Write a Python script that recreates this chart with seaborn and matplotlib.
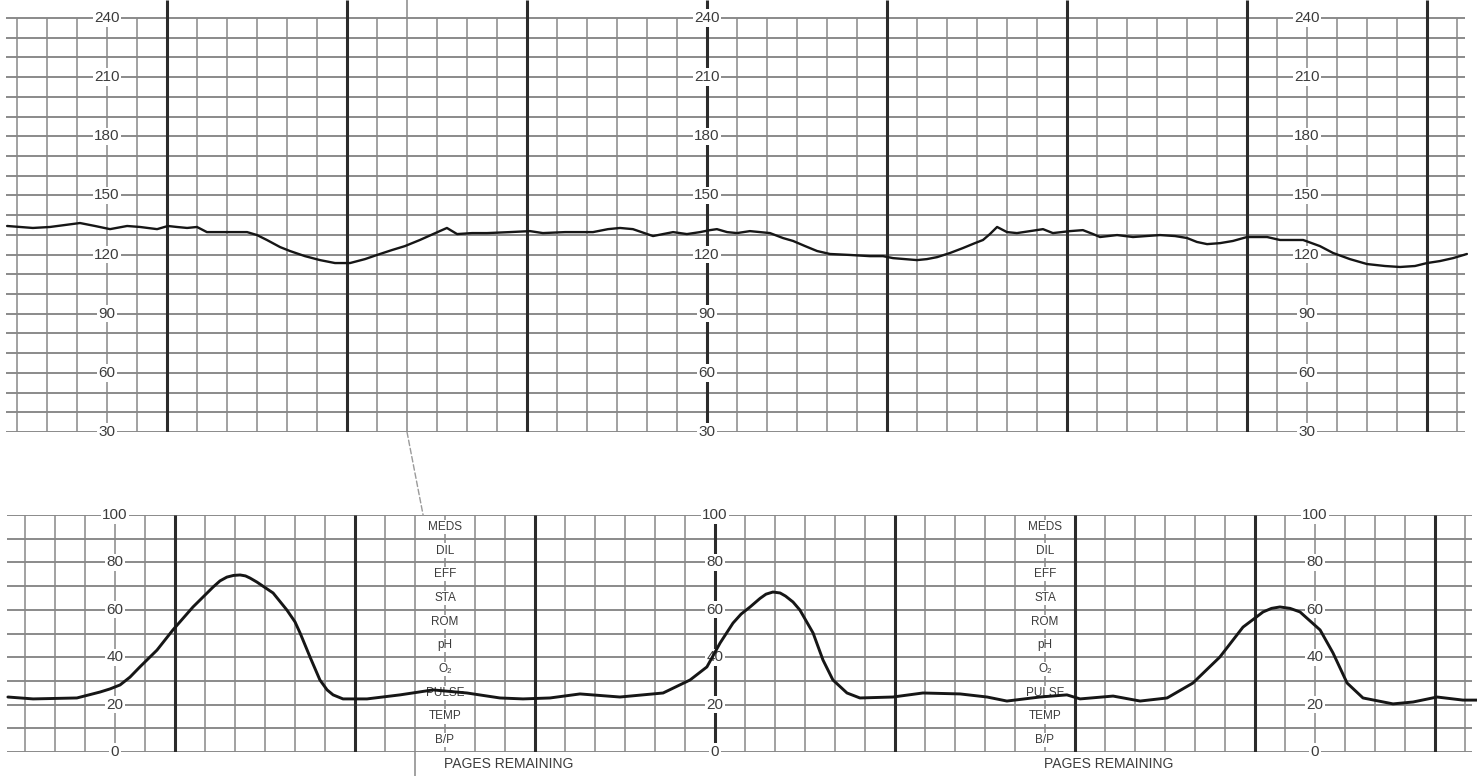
import pandas as pd
import matplotlib.pyplot as plt
import seaborn as sns
from matplotlib.patches import ConnectionPatch

# fetal heart rate strip (top), time along paper in seconds, bpm
fhr_time = [6.7, 11.0, 15.3, 21.0, 26.0, 31.0, 36.0, 41.0, 46.7, 51.0, 56.7, 60.3, 63.3, 66.7, 70.0,
            73.3, 79.3, 86.7, 90.0, 93.3, 97.7, 101.0, 106.0, 111.0, 116.0, 121.0, 126.0, 130.0, 135.0,
            139.3, 144.3, 148.7, 153.3, 156.7, 161.7, 166.7, 174.3, 181.0, 185.3, 192.7, 202.0, 207.0,
            211.0, 215.3, 222.0, 228.7, 233.3, 237.7, 241.0, 243.3, 246.7, 250.0, 254.3, 261.0, 265.3,
            268.7, 272.7, 276.7, 281.0, 287.7, 294.3, 298.7, 302.0, 306.0, 310.0, 313.3, 316.7, 321.0,
            325.3, 329.3, 332.0, 334.3, 336.7, 340.0, 343.3, 347.7, 352.0, 355.3, 361.0, 365.3, 368.7,
            371.0, 376.7, 382.0, 391.0, 396.0, 400.0, 403.3, 406.7, 411.0, 415.3, 420.0, 426.7, 431.0,
            438.7, 444.3, 448.7, 454.3, 460.0, 466.0, 471.0, 476.0, 480.0, 484.3, 488.7, 493.3]
fhr_bpm = [134.5, 134.0, 133.5, 134.0, 135.0, 136.0, 134.5, 132.9, 134.5, 134.0, 132.9, 134.5, 134.0, 133.5, 134.0,
           131.4, 131.4, 131.4, 129.9, 127.4, 123.8, 121.8, 119.2, 117.2, 115.7, 115.7, 117.7, 119.8, 122.3,
           124.3, 127.4, 130.4, 133.5, 130.4, 130.9, 130.9, 131.4, 131.9, 130.9, 131.4, 131.4, 132.9,
           133.5, 132.9, 129.4, 131.4, 130.4, 131.4, 132.4, 132.9, 131.4, 130.9, 131.9, 130.9, 128.4,
           126.9, 124.3, 121.8, 120.3, 119.8, 119.2, 119.2, 118.2, 117.7, 117.2, 117.7, 118.7, 120.8,
           123.3, 125.8, 127.4, 130.4, 134.0, 131.4, 130.9, 131.9, 132.9, 130.9, 131.9, 132.4, 130.4,
           128.9, 129.9, 128.9, 129.9, 129.4, 128.4, 126.4, 125.3, 125.8, 126.9, 128.9, 128.9, 127.4,
           127.4, 124.3, 120.8, 117.7, 115.2, 114.2, 113.7, 114.2, 115.7, 116.7, 118.2, 120.3]

# uterine activity strip (bottom), mmHg
uc_time = [4.3, 12.7, 27.3, 35.0, 38.3, 41.7, 45.0, 48.3, 54.0, 59.3, 66.0, 72.7, 75.0, 77.3, 79.5, 81.7, 83.5,
           85.0, 87.3, 92.7, 97.3, 100.0, 101.7, 105.0, 108.3, 110.7, 112.7, 116.0, 124.0, 135.0, 146.0,
           157.3, 168.3, 176.0, 185.0, 195.0, 208.3, 222.7, 231.7, 237.3, 241.7, 246.0, 248.7, 251.7, 255.0,
           257.0, 259.3, 261.7, 263.5, 266.0, 268.3, 272.7, 276.0, 279.3, 284.0, 288.3, 299.3, 309.3, 321.7,
           330.7, 337.3, 348.3, 357.3, 361.7, 372.7, 381.7, 390.7, 399.3, 408.3, 416.0, 422.7, 425.5, 428.3,
           431.7, 435.0, 441.7, 446.0, 450.7, 456.0, 466.0, 472.7, 480.7, 489.3, 494.0]
uc_mmhg = [23.2, 22.4, 22.8, 25.3, 26.6, 28.3, 31.6, 35.9, 43.0, 51.5, 61.2, 69.6, 72.2, 73.8, 74.5, 74.7, 74.3,
           73.4, 71.7, 67.1, 59.9, 54.9, 50.2, 40.1, 30.4, 26.2, 24.1, 22.4, 22.4, 24.1, 26.2,
           24.9, 22.8, 22.4, 22.8, 24.5, 23.2, 24.9, 30.4, 35.9, 46.0, 54.4, 58.2, 61.2, 64.8,
           66.6, 67.5, 67.1, 65.8, 63.3, 59.9, 50.2, 38.8, 30.4, 24.9, 22.8, 23.2, 24.9, 24.5,
           23.2, 21.5, 23.2, 24.1, 22.4, 23.6, 21.5, 22.8, 29.1, 40.1, 52.7, 59.1, 60.6, 61.2,
           60.6, 59.1, 51.5, 41.8, 29.1, 22.8, 20.3, 21.1, 23.2, 21.9, 21.9]

fhr_ticks = [30, 60, 90, 120, 150, 180, 210, 240]
uc_ticks = [0, 20, 40, 60, 80, 100]
scale_cols = [40, 240, 440]
notes_cols = [150, 350]
notes_labels = ['MEDS', 'DIL', 'EFF', 'STA', 'ROM', 'pH', 'O₂', 'PULSE', 'TEMP', 'B/P']
footer = 'PAGES REMAINING'

sns.set_style('white')
plt.rcParams['font.family'] = ['Liberation Sans', 'DejaVu Sans']

W, H = 1477, 776
fig = plt.figure(figsize=(W / 100, H / 100), dpi=100)
ax_top = fig.add_axes([0, (H - 432) / H, 1, 432 / H])
ax_bot = fig.add_axes([0, (H - 752) / H, 1, 237 / H])

hline_c, thin_c, thick_c, ink, lab_c = '#777777', '#888888', '#2b2b2b', '#161616', '#3c3c3c'

# top strip paper
top_max = 240 + 18 / 1.971
ax_top.set_xlim(13 / 3, (W + 13) / 3)
ax_top.set_ylim(30, top_max)
ax_top.hlines(range(30, 241, 10), 6.3, 492.7, color=hline_c, lw=1.2, zorder=1)
thin = [t for t in range(10, 491, 10) if t % 60]
ax_top.vlines(thin, 30, 240, color=thin_c, lw=1.1, zorder=1)
ax_top.vlines(range(60, 481, 60), 30, top_max, color=thick_c, lw=2.2, zorder=1)
ax_top.vlines(140, 240, top_max, color=thin_c, lw=1.1, zorder=1)

# bottom strip paper
ax_bot.set_xlim(5 / 3, (W + 5) / 3)
ax_bot.set_ylim(0, 100)
ax_bot.hlines(range(0, 101, 10), 4, 492.3, color=hline_c, lw=1.2, zorder=1)
ax_bot.vlines(thin, 0, 100, color=thin_c, lw=1.1, zorder=1)
ax_bot.vlines(range(60, 481, 60), 0, 100, color=thick_c, lw=2.2, zorder=1)
ax_bot.vlines(140, -10.2, 0, color=thin_c, lw=1.1, clip_on=False, zorder=1)

# perforation line through the gap
gap = ConnectionPatch(xyA=(140, 30), coordsA=ax_top.transData, xyB=(142.7, 100), coordsB=ax_bot.transData,
                      color='#9a9a9a', lw=1.0, linestyle=(0, (4, 2)))
fig.add_artist(gap)

box = dict(facecolor='white', edgecolor='none', pad=1.2)
for c in scale_cols:
    for v in fhr_ticks:
        ax_top.text(c, v, str(v), ha='center', va='center', fontsize=11, color=lab_c, bbox=box, zorder=2)
    for v in uc_ticks:
        ax_bot.text(c, v, str(v), ha='center', va='center', fontsize=11, color=lab_c, bbox=box, zorder=2)

for c in notes_cols:
    for i, lab in enumerate(notes_labels):
        ax_bot.text(c, 95 - 10 * i, lab, ha='center', va='center', fontsize=8.5, color=lab_c,
                    bbox=dict(facecolor='white', edgecolor='none', pad=0.8), zorder=2)
    ax_bot.text(c - 0.3, -5.1, footer, ha='left', va='center', fontsize=10, color=lab_c)

fhr = pd.DataFrame({'t': fhr_time, 'bpm': fhr_bpm})
uc = pd.DataFrame({'t': uc_time, 'mmHg': uc_mmhg})
sns.lineplot(data=fhr, x='t', y='bpm', ax=ax_top, color=ink, lw=1.7, sort=False, estimator=None, zorder=3)
sns.lineplot(data=uc, x='t', y='mmHg', ax=ax_bot, color=ink, lw=2.1, sort=False, estimator=None, zorder=3)

for ax in (ax_top, ax_bot):
    ax.set_axis_off()

fig.savefig('out.png', dpi=100, facecolor='white')
